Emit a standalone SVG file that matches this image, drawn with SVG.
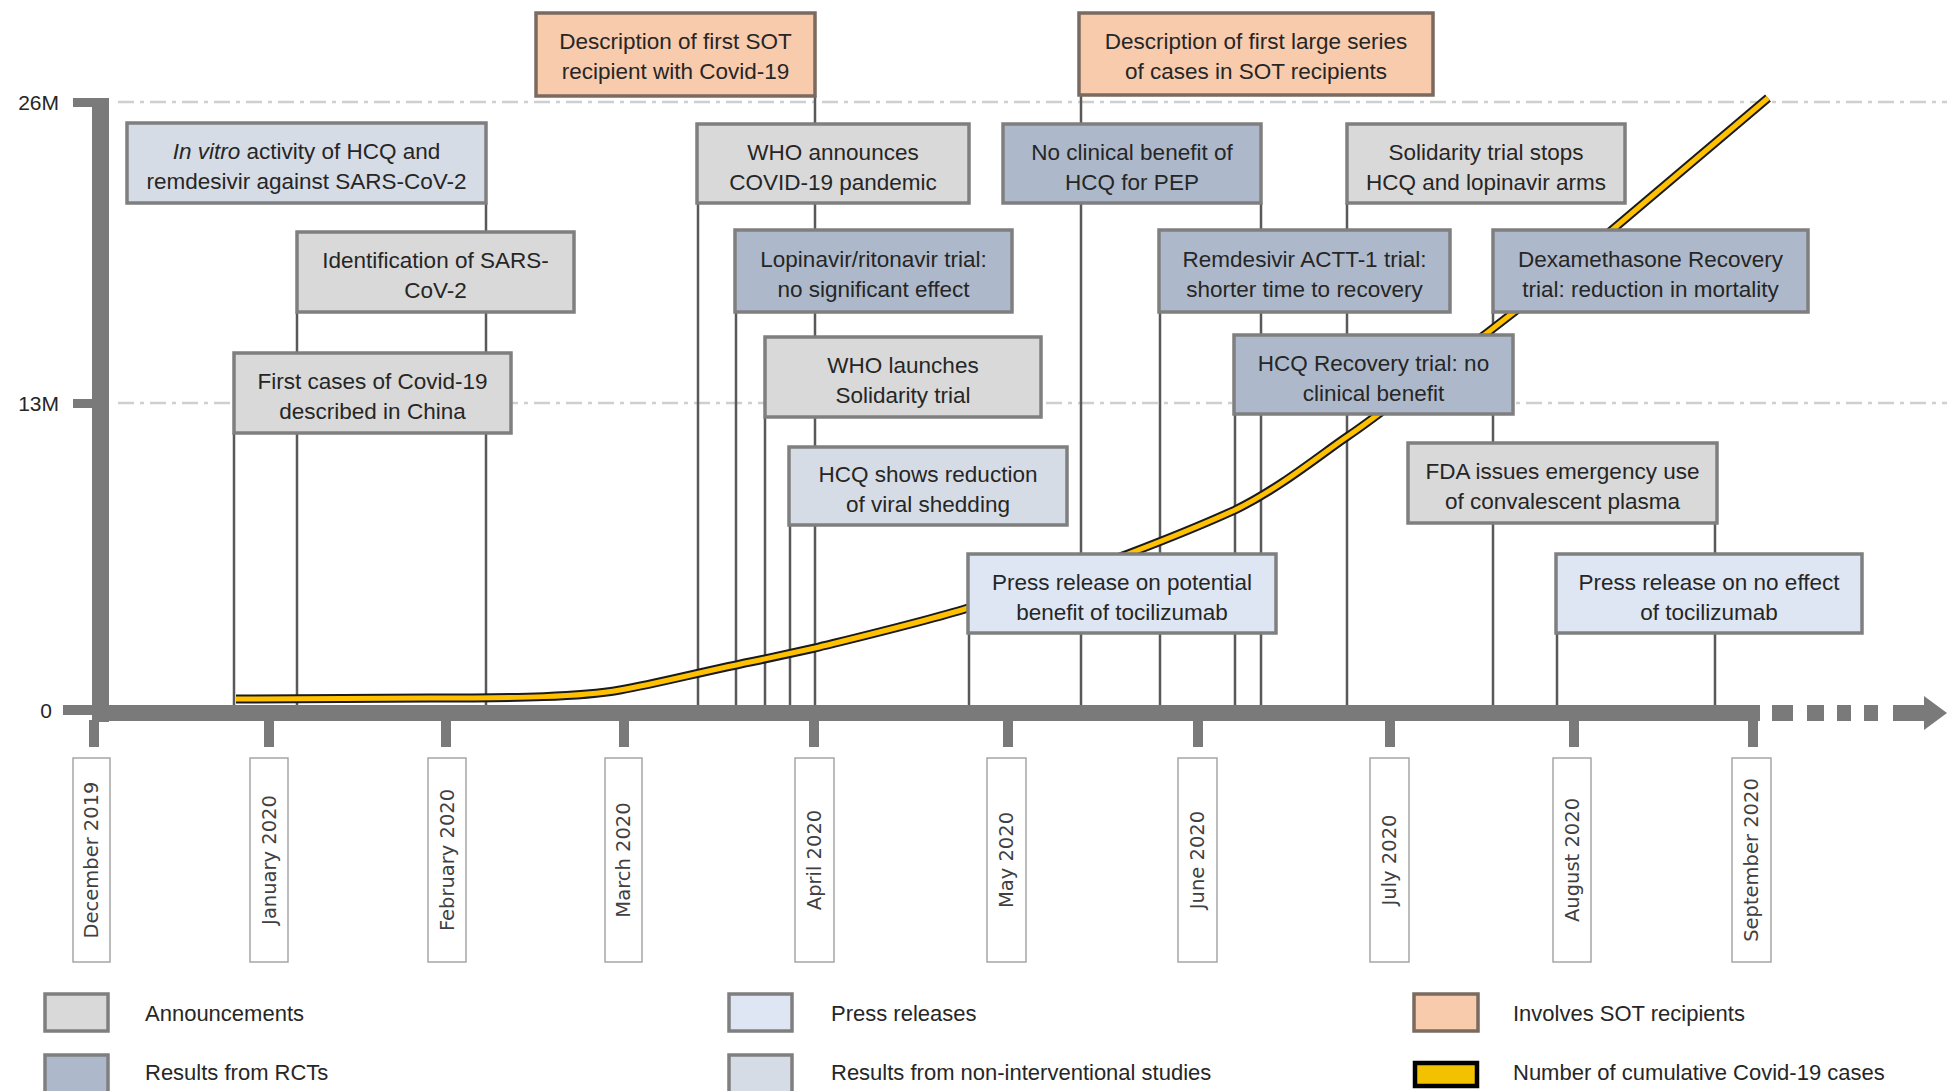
<svg xmlns="http://www.w3.org/2000/svg" width="1947" height="1091" viewBox="0 0 1947 1091">
<style>
  .bx { stroke: #7f7f7f; stroke-width: 3.5; }
  .ann { fill: #d9d9d9; }
  .rct { fill: #adb9ca; }
  .pr { fill: #dde6f2; }
  .ni { fill: #d6dce5; }
  .sot { fill: #f8cbad; stroke: #7a6a60; }
  .t { font-family: "Liberation Sans", Arial, sans-serif; font-size: 22.5px; fill: #262626; text-anchor: middle; }
  .lg { font-family: "Liberation Sans", Arial, sans-serif; font-size: 22px; fill: #262626; }
  .ax { font-family: "Liberation Sans", Arial, sans-serif; font-size: 21px; fill: #262626; text-anchor: end; }
  .mo { font-family: "DejaVu Sans", Verdana, sans-serif; font-size: 19.5px; fill: #404040; text-anchor: middle; }
  .mb { fill: #ffffff; stroke: #a6a6a6; stroke-width: 1.5; }
  .conn line { stroke: #595959; stroke-width: 2.5; }
  .grid { stroke: #cfcfcf; stroke-width: 2.5; stroke-dasharray: 16 6 4 6; fill: none; }
  .axis { fill: #7a7a7a; }
</style>

<!-- grid lines -->
<g id="grid">
  <line class="grid" x1="118" y1="102" x2="1947" y2="102"/>
  <line class="grid" x1="118" y1="403" x2="1947" y2="403"/>
</g>

<!-- connectors -->
<g id="connectors" class="conn">
  <line x1="486" y1="203" x2="486" y2="706"/>
  <line x1="297" y1="312" x2="297" y2="706"/>
  <line x1="234" y1="433" x2="234" y2="706"/>
  <line x1="815" y1="96" x2="815" y2="706"/>
  <line x1="698" y1="203" x2="698" y2="706"/>
  <line x1="736" y1="312" x2="736" y2="706"/>
  <line x1="765" y1="417" x2="765" y2="706"/>
  <line x1="790" y1="525" x2="790" y2="706"/>
  <line x1="969" y1="633" x2="969" y2="706"/>
  <line x1="1081" y1="95" x2="1081" y2="706"/>
  <line x1="1160" y1="312" x2="1160" y2="706"/>
  <line x1="1235" y1="414" x2="1235" y2="706"/>
  <line x1="1261" y1="203" x2="1261" y2="706"/>
  <line x1="1347" y1="203" x2="1347" y2="706"/>
  <line x1="1493" y1="312" x2="1493" y2="706"/>
  <line x1="1715" y1="523" x2="1715" y2="706"/>
  <line x1="1557" y1="633" x2="1557" y2="706"/>
</g>

<!-- cumulative cases curve -->
<g id="curve" fill="none" stroke-linejoin="round" stroke-linecap="butt">
  <path id="curvePath" d="M236,699 L430,698 C520,698 580,697 620,690 C660,683 700,672 760,660 L815,648 C880,632 930,620 968,608 C1030,588 1080,572 1128,554 C1170,538 1200,526 1235,510 C1280,488 1320,455 1348,436 C1360,428 1372,419 1384,410 L1487,333 L1518,309 L1612,230 L1768,98" stroke="#1a1a1a" stroke-width="9"/>
  <path d="M236,699 L430,698 C520,698 580,697 620,690 C660,683 700,672 760,660 L815,648 C880,632 930,620 968,608 C1030,588 1080,572 1128,554 C1170,538 1200,526 1235,510 C1280,488 1320,455 1348,436 C1360,428 1372,419 1384,410 L1487,333 L1518,309 L1612,230 L1768,98" stroke="#ffc000" stroke-width="5"/>
</g>

<!-- axes -->
<g id="axes">
  <rect class="axis" x="92" y="98" width="17" height="624"/>
  <rect class="axis" x="92" y="705" width="1668" height="16"/>
  <rect class="axis" x="73" y="98" width="20" height="9"/>
  <rect class="axis" x="73" y="399" width="20" height="9"/>
  <rect class="axis" x="63" y="705" width="30" height="10"/>
  <rect class="axis" x="1772" y="705" width="21" height="16"/>
  <rect class="axis" x="1807" y="705" width="17" height="16"/>
  <rect class="axis" x="1837" y="705" width="14" height="16"/>
  <rect class="axis" x="1864" y="705" width="14" height="16"/>
  <rect class="axis" x="1893" y="705" width="34" height="16"/>
  <polygon class="axis" points="1924,696 1947,713 1924,730"/>
  <text class="ax" x="59" y="110">26M</text>
  <text class="ax" x="59" y="411">13M</text>
  <text class="ax" x="52" y="718">0</text>
</g>

<!-- month ticks and labels -->
<g id="months">
  <g id="m-dec"><rect class="axis" x="89" y="720" width="10" height="27"/><rect class="mb" x="73" y="758" width="37" height="204"/><text class="mo" transform="translate(98,860) rotate(-90)">December 2019</text></g>
  <g id="m-jan"><rect class="axis" x="264" y="720" width="10" height="27"/><rect class="mb" x="250" y="758" width="38" height="204"/><text class="mo" transform="translate(276,860) rotate(-90)">January 2020</text></g>
  <g id="m-feb"><rect class="axis" x="441" y="720" width="10" height="27"/><rect class="mb" x="428" y="758" width="38" height="204"/><text class="mo" transform="translate(454,860) rotate(-90)">February 2020</text></g>
  <g id="m-mar"><rect class="axis" x="619" y="720" width="10" height="27"/><rect class="mb" x="605" y="758" width="37" height="204"/><text class="mo" transform="translate(630,860) rotate(-90)">March 2020</text></g>
  <g id="m-apr"><rect class="axis" x="809" y="720" width="10" height="27"/><rect class="mb" x="795" y="758" width="39" height="204"/><text class="mo" transform="translate(821,860) rotate(-90)">April 2020</text></g>
  <g id="m-may"><rect class="axis" x="1003" y="720" width="10" height="27"/><rect class="mb" x="987" y="758" width="39" height="204"/><text class="mo" transform="translate(1013,860) rotate(-90)">May 2020</text></g>
  <g id="m-jun"><rect class="axis" x="1193" y="720" width="10" height="27"/><rect class="mb" x="1178" y="758" width="39" height="204"/><text class="mo" transform="translate(1204,860) rotate(-90)">June 2020</text></g>
  <g id="m-jul"><rect class="axis" x="1385" y="720" width="10" height="27"/><rect class="mb" x="1370" y="758" width="39" height="204"/><text class="mo" transform="translate(1396,860) rotate(-90)">July 2020</text></g>
  <g id="m-aug"><rect class="axis" x="1569" y="720" width="10" height="27"/><rect class="mb" x="1553" y="758" width="38" height="204"/><text class="mo" transform="translate(1579,860) rotate(-90)">August 2020</text></g>
  <g id="m-sep"><rect class="axis" x="1748" y="720" width="10" height="27"/><rect class="mb" x="1732" y="758" width="39" height="204"/><text class="mo" transform="translate(1758,860) rotate(-90)">September 2020</text></g>
</g>

<!-- event nodes -->
<g id="n-sot1"><rect class="bx sot" x="536" y="13" width="279" height="83"/><text class="t" x="675.5" y="49">Description of first SOT</text><text class="t" x="675.5" y="79">recipient with Covid-19</text></g>
<g id="n-sot2"><rect class="bx sot" x="1079" y="13" width="354" height="82"/><text class="t" x="1256" y="49">Description of first large series</text><text class="t" x="1256" y="79">of cases in SOT recipients</text></g>
<g id="n-invitro"><rect class="bx ni" x="127" y="123" width="359" height="80"/><text class="t" x="306.5" y="159"><tspan font-style="italic">In vitro</tspan> activity of HCQ and</text><text class="t" x="306.5" y="189">remdesivir against SARS-CoV-2</text></g>
<g id="n-ident"><rect class="bx ann" x="297" y="232" width="277" height="80"/><text class="t" x="435.5" y="268">Identification of SARS-</text><text class="t" x="435.5" y="298">CoV-2</text></g>
<g id="n-firstcases"><rect class="bx ann" x="234" y="353" width="277" height="80"/><text class="t" x="372.5" y="389">First cases of Covid-19</text><text class="t" x="372.5" y="419">described in China</text></g>
<g id="n-whoann"><rect class="bx ann" x="697" y="124" width="272" height="79"/><text class="t" x="833" y="160">WHO announces</text><text class="t" x="833" y="190">COVID-19 pandemic</text></g>
<g id="n-lopinavir"><rect class="bx rct" x="735" y="230" width="277" height="82"/><text class="t" x="873.5" y="267">Lopinavir/ritonavir trial:</text><text class="t" x="873.5" y="297">no significant effect</text></g>
<g id="n-wholaunch"><rect class="bx ann" x="765" y="337" width="276" height="80"/><text class="t" x="903" y="373">WHO launches</text><text class="t" x="903" y="403">Solidarity trial</text></g>
<g id="n-hcqshows"><rect class="bx ni" x="789" y="447" width="278" height="78"/><text class="t" x="928" y="482">HCQ shows reduction</text><text class="t" x="928" y="512">of viral shedding</text></g>
<g id="n-presspot"><rect class="bx pr" x="968" y="554" width="308" height="79"/><text class="t" x="1122" y="590">Press release on potential</text><text class="t" x="1122" y="620">benefit of tocilizumab</text></g>
<g id="n-pep"><rect class="bx rct" x="1003" y="124" width="258" height="79"/><text class="t" x="1132" y="160">No clinical benefit of</text><text class="t" x="1132" y="190">HCQ for PEP</text></g>
<g id="n-remdesivir"><rect class="bx rct" x="1159" y="230" width="291" height="82"/><text class="t" x="1304.5" y="267">Remdesivir ACTT-1 trial:</text><text class="t" x="1304.5" y="297">shorter time to recovery</text></g>
<g id="n-hcqrecovery"><rect class="bx rct" x="1234" y="335" width="279" height="79"/><text class="t" x="1373.5" y="371">HCQ Recovery trial: no</text><text class="t" x="1373.5" y="401">clinical benefit</text></g>
<g id="n-solidstops"><rect class="bx ann" x="1347" y="124" width="278" height="79"/><text class="t" x="1486" y="160">Solidarity trial stops</text><text class="t" x="1486" y="190">HCQ and lopinavir arms</text></g>
<g id="n-dexa"><rect class="bx rct" x="1493" y="230" width="315" height="82"/><text class="t" x="1650.5" y="267">Dexamethasone Recovery</text><text class="t" x="1650.5" y="297">trial: reduction in mortality</text></g>
<g id="n-fda"><rect class="bx ann" x="1408" y="443" width="309" height="80"/><text class="t" x="1562.5" y="479">FDA issues emergency use</text><text class="t" x="1562.5" y="509">of convalescent plasma</text></g>
<g id="n-pressno"><rect class="bx pr" x="1556" y="554" width="306" height="79"/><text class="t" x="1709" y="590">Press release on no effect</text><text class="t" x="1709" y="620">of tocilizumab</text></g>

<!-- legend -->
<g id="legend">
  <g id="lg-ann"><rect class="bx ann" x="45" y="994" width="63" height="37"/><text class="lg" x="145" y="1021">Announcements</text></g>
  <g id="lg-rct"><rect class="bx rct" x="45" y="1055" width="63" height="38"/><text class="lg" x="145" y="1080">Results from RCTs</text></g>
  <g id="lg-pr"><rect class="bx pr" x="729" y="994" width="63" height="37"/><text class="lg" x="831" y="1021">Press releases</text></g>
  <g id="lg-ni"><rect class="bx ni" x="729" y="1055" width="63" height="38"/><text class="lg" x="831" y="1080">Results from non-interventional studies</text></g>
  <g id="lg-sot"><rect class="bx sot" x="1414" y="994" width="64" height="37"/><text class="lg" x="1513" y="1021">Involves SOT recipients</text></g>
  <g id="lg-curve"><rect x="1415" y="1063" width="62" height="23" fill="#f2c200" stroke="#000000" stroke-width="4.5"/><text class="lg" x="1513" y="1080">Number of cumulative Covid-19 cases</text></g>
</g>
</svg>
